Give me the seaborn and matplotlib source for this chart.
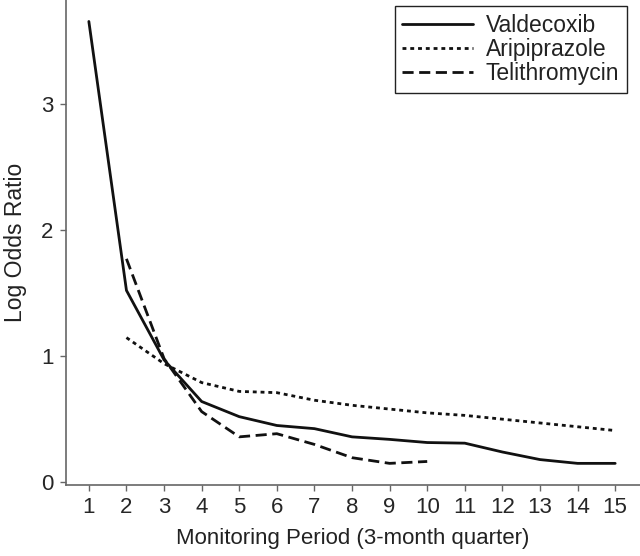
import numpy as np
import pandas as pd
import matplotlib
matplotlib.use("Agg")
import matplotlib.pyplot as plt
import seaborn as sns

drugs = ["Valdecoxib", "Aripiprazole", "Telithromycin"]
valdecoxib_x = list(range(1, 16))
valdecoxib_y = [3.65, 1.52, 0.97, 0.64, 0.52, 0.45, 0.425, 0.36, 0.34, 0.315, 0.31, 0.24, 0.18, 0.15, 0.15]
aripiprazole_x = list(range(2, 16))
aripiprazole_y = [1.146, 0.94, 0.79, 0.72, 0.71, 0.65, 0.61, 0.58, 0.55, 0.53, 0.50, 0.47, 0.44, 0.41]
telithromycin_x = list(range(2, 11))
telithromycin_y = [1.77, 0.98, 0.56, 0.36, 0.385, 0.30, 0.195, 0.15, 0.165]
xticks = list(range(1, 16))
yticks = [0, 1, 2, 3]

frames = []
for name, xs, ys in [("Valdecoxib", valdecoxib_x, valdecoxib_y),
                     ("Aripiprazole", aripiprazole_x, aripiprazole_y),
                     ("Telithromycin", telithromycin_x, telithromycin_y)]:
    frames.append(pd.DataFrame({"period": xs, "lor": ys, "drug": name}))
df = pd.concat(frames, ignore_index=True)

sns.set_style("white")
plt.rcParams['font.family'] = ['Liberation Sans', 'DejaVu Sans']

fig = plt.figure(figsize=(6.4, 5.56), dpi=100)
ax = fig.add_axes([0.103, 0.128, 0.897, 0.872])

dashes = {"Valdecoxib": "", "Aripiprazole": (1.4, 1.4), "Telithromycin": (4, 2)}
sns.lineplot(data=df, x="period", y="lor", style="drug", style_order=drugs,
             dashes=dashes, color="#111111", linewidth=2.0, ax=ax, legend=True)

ax.set_xlim(0.39, 15.66)
ax.set_ylim(-0.02, 3.82)
ax.set_xticks(xticks)
ax.set_yticks(yticks)
ax.tick_params(axis='both', labelsize=16, length=4, width=1, color="#666666",
               direction='out', bottom=True, left=True, pad=5)
ax.set_xlabel("Monitoring Period (3-month quarter)", fontsize=16, color="#222222", labelpad=7)
ax.set_ylabel("Log Odds Ratio", fontsize=16.5, color="#222222", labelpad=10)
for s in ["top", "right"]:
    ax.spines[s].set_visible(False)
for s in ["left", "bottom"]:
    ax.spines[s].set_color("#666666")
    ax.spines[s].set_linewidth(1.2)

leg = ax.legend(loc="upper right", bbox_to_anchor=(0.977, 0.987), fontsize=16.5,
                frameon=True, fancybox=False, edgecolor="#222222", framealpha=1,
                handlelength=3.1, borderpad=0.33, labelspacing=0.05, handletextpad=0.55,
                borderaxespad=0)
leg.get_frame().set_linewidth(1.0)
for t in leg.get_texts():
    t.set_color("#222222")

fig.savefig("out.png", dpi=100)
